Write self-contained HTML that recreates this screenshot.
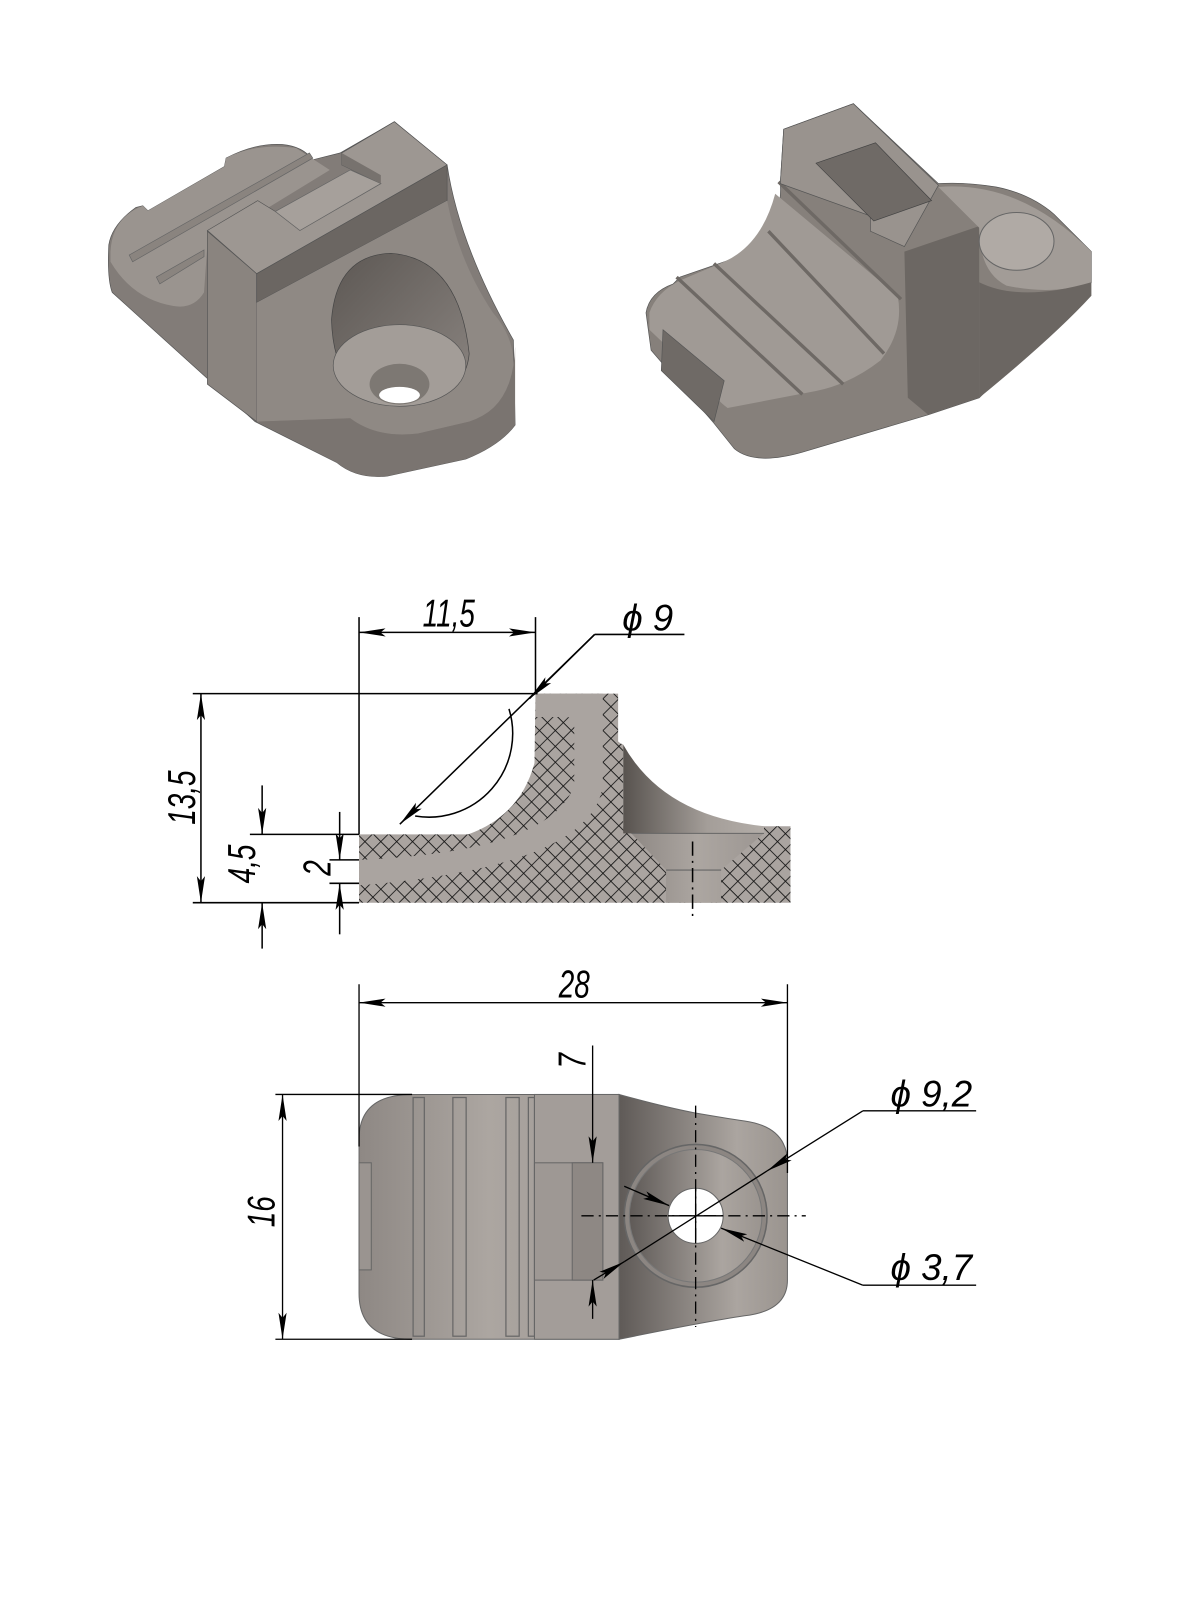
<!DOCTYPE html>
<html><head><meta charset="utf-8"><style>
html,body{margin:0;padding:0;background:#fff;}
svg{display:block;}
text{font-family:"Liberation Sans",sans-serif;font-style:italic;fill:#000;}
</style></head><body>
<svg width="1200" height="1600" viewBox="0 0 1200 1600" xmlns="http://www.w3.org/2000/svg">
<defs>
<pattern id="hatch" width="11" height="11" patternUnits="userSpaceOnUse" patternTransform="rotate(45)">
<rect width="11" height="11" fill="#aaa4a0"/>
<path d="M0 0H11M0 0V11" stroke="#111" stroke-width="1.6"/>
</pattern>
<linearGradient id="gR" x1="0" x2="1" y1="0" y2="0"><stop offset="0" stop-color="#5f5a57"/><stop offset="0.7" stop-color="#aba5a0"/><stop offset="1" stop-color="#9a948f"/></linearGradient>
<linearGradient id="gL" x1="0" x2="1" y1="0" y2="0"><stop offset="0" stop-color="#8e8884"/><stop offset="0.5" stop-color="#aca6a1"/><stop offset="1" stop-color="#9c9692"/></linearGradient>
<linearGradient id="gC" x1="0" x2="1" y1="0" y2="0"><stop offset="0" stop-color="#58534f"/><stop offset="0.6" stop-color="#a49e99"/><stop offset="1" stop-color="#b3ada8"/></linearGradient>
<linearGradient id="gH" x1="0" x2="1" y1="0" y2="1"><stop offset="0" stop-color="#5d5854"/><stop offset="1" stop-color="#8a8480"/></linearGradient>
<marker id="a" viewBox="0 0 26 10" refX="26" refY="5" markerWidth="26" markerHeight="10" markerUnits="userSpaceOnUse" orient="auto-start-reverse"><path d="M0 1L26 5L0 9L5 5Z" fill="#000"/></marker>
</defs>

<!-- LEFT 3D -->
<g transform="translate(91.8,102) scale(0.34)">
<path d="M50,420 Q60,360 130,310 L150,305 L165,320 L390,190 L395,165 Q480,120 560,125 Q620,130 650,170 L730,150 L890,58 L1045,185 Q1080,420 1240,700 L1245,950 Q1200,1010 1100,1050 L870,1100 Q780,1110 720,1060 L480,940 L60,560 Q45,520 50,420 Z" fill="#827c78" stroke="#555" stroke-width="2"/>
<path d="M55,440 Q60,340 150,305 L165,320 L390,190 L395,165 Q480,120 600,135 L700,200 L340,420 L330,560 Q300,610 240,600 Q120,580 55,470 Z" fill="#9a948f"/>
<path d="M110,450 L640,150 L650,165 L120,470 Z M190,515 L330,435 L330,455 L200,535 Z" fill="#8a847f" stroke="#666" stroke-width="2"/>
<path d="M340,380 L485,505 L485,940 L340,830 Z" fill="#8a847f" stroke="#555" stroke-width="2"/>
<path d="M340,378 L488,290 L540,322 L612,378 L850,240 L735,185 L735,150 L890,58 L1045,185 L485,505 Z" fill="#9d9792" stroke="#555" stroke-width="2"/>
<path d="M540,322 L760,200 L850,240 L612,378 Z" fill="#a6a09b" stroke="#666" stroke-width="2"/>
<path d="M735,150 L735,185 L850,240 L850,215 Z" fill="#77726e"/>
<path d="M485,505 L1045,185 L1045,290 L485,590 Z" fill="#6b6662" stroke="#555" stroke-width="2"/>
<path d="M485,590 L1045,290 Q1080,470 1180,620 Q1250,700 1240,800 Q1220,900 1110,940 L960,975 Q840,990 760,930 L485,940 Z" fill="#8f8984"/>
<path d="M485,940 L720,1060 Q780,1110 870,1100 L1100,1050 Q1200,1010 1245,950 L1245,720 Q1240,900 1110,940 L960,975 Q840,990 760,930 Z" fill="#7a7470"/>
<path d="M705,640 Q720,450 880,445 Q1080,460 1110,740 Q1100,850 980,870 L820,870 Q710,820 705,640 Z" fill="url(#gH)" stroke="#444" stroke-width="2"/>
<ellipse cx="905" cy="775" rx="195" ry="120" fill="#a39d98" stroke="#555" stroke-width="2"/>
<ellipse cx="905" cy="830" rx="88" ry="60" fill="#7d7873"/>
<ellipse cx="905" cy="862" rx="60" ry="24" fill="#fff"/>
</g>

<!-- RIGHT 3D -->
<g transform="translate(612,91.8) scale(0.34)">
<path d="M100,650 Q110,590 180,565 L200,545 L330,500 Q420,470 470,410 Q500,330 495,270 L505,110 L710,35 L960,270 Q1040,265 1130,280 Q1230,300 1300,360 L1410,470 L1410,560 Q1380,620 1300,680 L1080,900 L930,950 L560,1060 Q420,1100 360,1050 L300,975 L115,760 Z" fill="#86807b" stroke="#555" stroke-width="2"/>
<path d="M110,650 Q130,590 200,555 L330,500 Q440,450 480,300 L840,600 Q860,700 790,790 Q700,860 600,880 L340,930 Q300,900 300,880 L110,700 Z" fill="#a09a95"/>
<path d="M190,545 L560,890 M300,505 L680,860 M460,410 L800,770 M490,265 L850,610" stroke="#6e6965" stroke-width="10" fill="none"/>
<path d="M505,110 L710,35 L960,275 L860,455 L760,410 L760,365 L495,270 Z" fill="#99938e" stroke="#555" stroke-width="2"/>
<path d="M600,210 L775,150 L940,320 L770,380 Z" fill="#6f6a66" stroke="#444" stroke-width="2"/>
<path d="M860,470 L1080,395 L1080,900 L930,950 L870,900 Z" fill="#6c6763"/>
<path d="M960,280 Q1200,260 1410,470 L1410,560 Q1300,600 1160,570 Q1080,530 1080,400 Z" fill="#a29c97"/>
<path d="M1080,560 Q1200,620 1410,560 L1410,600 Q1300,720 1080,900 Z" fill="#6b6662"/>
<ellipse cx="1190" cy="440" rx="110" ry="85" fill="#b0aaa5" stroke="#666" stroke-width="3"/>
<path d="M150,700 L330,850 L300,970 L145,820 Z" fill="#6f6a66" stroke="#555" stroke-width="2"/>
</g>

<g transform="scale(1.02)">
<!-- SECTION -->
<path d="M352,818 L459,818 Q510,800 524,748 L525,680 L606,680 L606,727 Q608,729 611,730 L611,810 L775,810 L775,885 L352,885 Z" fill="url(#hatch)"/>
<path d="M525,680 L591,680 L591,770 Q580,850 352,868 L352,843 Q540,835 563,770 L563,710 Q563,703 555,703 L525,703 Z" fill="#aaa4a0"/>
<path d="M611,730 Q650,800 749,810 L749,817 L611,817 Z" fill="url(#gC)"/>
<path d="M619,817 L749,817 L707,853 L707,885 L653,885 L653,853 Z" fill="url(#gL)"/>
<path d="M619,817 L749,817 M653,853 L707,853" stroke="#666" stroke-width="1"/>
<path d="M679,825 V900" stroke="#000" stroke-width="1.5" stroke-dasharray="14,5,2,5"/>

<g stroke="#000" stroke-width="1.5" fill="none">
<path d="M352,605 V818 M525,605 V680"/>
<path d="M352,620 H525" marker-start="url(#a)" marker-end="url(#a)"/>
<path d="M189,680 H527 M189,885 H352"/>
<path d="M197,680 V885" marker-start="url(#a)" marker-end="url(#a)"/>
<path d="M245,818 H352"/>
<path d="M257,770 V818" marker-end="url(#a)"/>
<path d="M257,930 V885" marker-end="url(#a)"/>
<path d="M323,843 H352 M323,866 H352"/>
<path d="M333,796 V843" marker-end="url(#a)"/>
<path d="M333,916 V866" marker-end="url(#a)"/>
<path d="M583,622 L392,808" marker-end="url(#a)"/>
<path d="M583,622 L519,685" marker-end="url(#a)"/>
<path d="M583,622 H671"/>
<path d="M499,695 A82,82 0 0 1 407,800"/>
</g>
<text x="440" y="614" font-size="38" text-anchor="middle" transform="translate(440 0) scale(0.72 1) translate(-440 0)">11,5</text>
<text x="610" y="618" font-size="36">ϕ 9</text>
<text transform="translate(191 782) rotate(-90) scale(0.72 1)" font-size="38" text-anchor="middle">13,5</text>
<text transform="translate(250 847) rotate(-90) scale(0.72 1)" font-size="38" text-anchor="middle">4,5</text>
<text transform="translate(324 851) rotate(-90) scale(0.72 1)" font-size="38" text-anchor="middle">2</text>

<!-- TOP VIEW -->
<path d="M404,1073 L607,1073 L607,1313 L404,1313 Q352,1313 352,1268 L352,1117 Q352,1073 404,1073 Z" fill="url(#gL)" stroke="#666" stroke-width="1"/>
<rect x="352" y="1140" width="12" height="105" fill="#9a9490" stroke="#666"/>
<g fill="none" stroke="#666" stroke-width="1.2">
<rect x="405" y="1076" width="11" height="234"/>
<rect x="444" y="1076" width="13" height="234"/>
<rect x="496" y="1076" width="13" height="234"/>
<rect x="518" y="1076" width="6" height="234"/>
</g>
<rect x="524" y="1073" width="83" height="240" fill="#a39d99" stroke="#666"/>
<rect x="524" y="1140" width="67" height="115" fill="#9e9894" stroke="#666"/>
<rect x="561" y="1140" width="30" height="115" fill="#8e8884" stroke="#666"/>
<path d="M607,1073 Q650,1085 681,1091 Q710,1096 730,1099 Q772,1105 772,1140 L772,1255 Q772,1285 730,1290 Q690,1296 607,1313 Z" fill="url(#gR)" stroke="#666"/>
<circle cx="682" cy="1192" r="70" fill="#8c8682" stroke="#666" stroke-width="1.5"/>
<circle cx="682" cy="1192" r="65" fill="url(#gR)" stroke="#777"/>
<circle cx="682" cy="1192" r="27" fill="#fff" stroke="#666"/>
<g stroke="#000" stroke-width="1.3" fill="none">
<path d="M570,1192 H790 M682,1084 V1301" stroke-dasharray="12,5,2,5"/>
<path d="M655,1192 H709 M682,1165 V1219"/>
<path d="M352,965 V1124 M772,965 V1150"/>
<path d="M352,983 H772" marker-start="url(#a)" marker-end="url(#a)"/>
<path d="M270,1073 H404 M270,1313 H404"/>
<path d="M277,1073 V1313" marker-start="url(#a)" marker-end="url(#a)"/>
<path d="M581,1025 V1140" marker-end="url(#a)"/>
<path d="M581,1293 V1255" marker-end="url(#a)"/>
<path d="M846,1089 L752,1148" marker-end="url(#a)"/>
<path d="M582,1255 L612,1237" marker-end="url(#a)"/>
<path d="M612,1237 L752,1148"/>
<path d="M846,1089 H957"/>
<path d="M612,1163 L656,1182" marker-end="url(#a)"/>
<path d="M846,1260 L707,1204" marker-end="url(#a)"/>
<path d="M846,1260 H957"/>
</g>
<text x="563" y="978" font-size="38" text-anchor="middle" transform="translate(563 0) scale(0.72 1) translate(-563 0)">28</text>
<text transform="translate(269 1188) rotate(-90) scale(0.72 1)" font-size="38" text-anchor="middle">16</text>
<text transform="translate(574 1040) rotate(-90) scale(0.72 1)" font-size="38" text-anchor="middle">7</text>
<text x="873" y="1085" font-size="36">ϕ 9,2</text>
<text x="873" y="1255" font-size="36">ϕ 3,7</text>
</g>
</svg>
</body></html>
